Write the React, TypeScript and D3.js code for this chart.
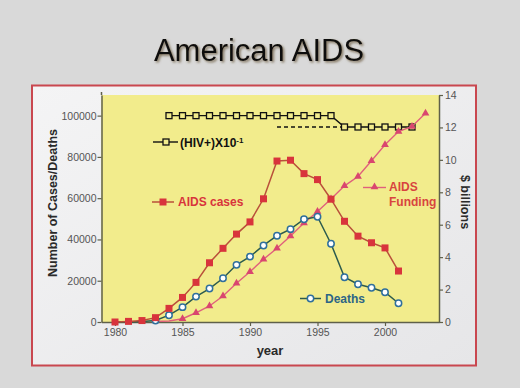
import React, { useEffect, useRef } from 'react'
import * as d3 from 'd3'

// values
const caseYears = d3.range(1980, 2002)
const aidsCases = [0, 300, 700, 2100, 6600, 11900, 19200, 28700, 35700, 42600, 48500, 59700, 78000, 78400, 71900, 69000, 59500, 48800, 41600, 38400, 35900, 24700]
const aidsDeaths = [0, 0, 200, 700, 3300, 7200, 12300, 16200, 21200, 27700, 31700, 37100, 41800, 45000, 49800, 51000, 37900, 21700, 18300, 16600, 14400, 9100]

const fundingYears = d3.range(1983, 2004)
const aidsFunding = [0.03, 0.06, 0.2, 0.57, 0.99, 1.6, 2.39, 3.1, 3.87, 4.55, 5.31, 6.1, 6.81, 7.59, 8.4, 8.97, 9.94, 10.93, 11.75, 12.06, 12.88]

const hivYears = d3.range(1984, 2003)
const hivPositive = [100000, 100000, 100000, 100000, 100000, 100000, 100000, 100000, 100000, 100000, 100000, 100000, 100000, 94500, 94500, 94500, 94500, 94500, 94500]
const hivDashed = [[1992, 94500], [1997, 94500]]

const leftTicks = [0, 20000, 40000, 60000, 80000, 100000]
const rightTicks = [0, 2, 4, 6, 8, 10, 12, 14]
const yearTicks = [1980, 1985, 1990, 1995, 2000]

const FONT = '"Liberation Sans", Arial, sans-serif'

const App: React.FC = () => {
  const svgRef = useRef<SVGSVGElement>(null)

  useEffect(() => {
    if (!svgRef.current) return
    const svg = d3.select(svgRef.current)
    svg.selectAll('*').remove()

    const left = 101.5, right = 439, top = 95, bottom = 322
    const x = d3.scaleLinear().domain([1979, 2004]).range([left, right])
    const y = d3.scaleLinear().domain([0, 110000]).range([bottom, top])
    const y2 = d3.scaleLinear().domain([0, 14]).range([bottom, top])

    const defs = svg.append('defs')
    const f = defs.append('filter').attr('id', 'shadow').attr('x', '-10%').attr('y', '-20%').attr('width', '120%').attr('height', '150%')
    f.append('feDropShadow').attr('dx', 1.5).attr('dy', 1.5).attr('stdDeviation', 1).attr('flood-color', '#6b5a40').attr('flood-opacity', 0.8)

    const bg = defs.append('linearGradient').attr('id', 'panel').attr('x1', 0).attr('y1', 0).attr('x2', 1).attr('y2', 1)
    bg.append('stop').attr('offset', '0%').attr('stop-color', '#f4f4f5')
    bg.append('stop').attr('offset', '100%').attr('stop-color', '#e6e6e8')

    svg.append('rect').attr('width', 520).attr('height', 388).attr('fill', '#d9d9d9')

    svg.append('text')
      .attr('x', 259).attr('y', 61)
      .attr('text-anchor', 'middle')
      .attr('font-family', FONT).attr('font-size', 31)
      .attr('fill', '#111')
      .attr('filter', 'url(#shadow)')
      .text('American AIDS')

    svg.append('rect')
      .attr('x', 32).attr('y', 85.5).attr('width', 444).attr('height', 280)
      .attr('fill', 'url(#panel)')
      .attr('stroke', '#c9474f').attr('stroke-width', 2)

    svg.append('rect')
      .attr('x', left).attr('y', top).attr('width', right - left).attr('height', bottom - top)
      .attr('fill', '#f2ec8c')

    const axisColor = '#5f604a'
    const styleAxis = (g: d3.Selection<SVGGElement, unknown, null, undefined>) => {
      g.selectAll('path').attr('stroke', axisColor).attr('stroke-width', 1.5)
      g.selectAll('line').attr('stroke', axisColor).attr('stroke-width', 1.2)
      g.selectAll('text').attr('fill', '#555').attr('font-family', FONT).attr('font-size', 10.5)
    }

    svg.append('line')
      .attr('x1', left).attr('x2', left).attr('y1', top - 3).attr('y2', top)
      .attr('stroke', axisColor).attr('stroke-width', 1.5)

    svg.append('g')
      .attr('transform', `translate(${left},0)`)
      .call(d3.axisLeft(y).tickValues(leftTicks).tickFormat(d3.format('d')).tickSize(4).tickSizeOuter(0).tickPadding(1))
      .call(styleAxis)

    svg.append('g')
      .attr('transform', `translate(${right},0)`)
      .call(d3.axisRight(y2).tickValues(rightTicks).tickSize(4).tickSizeOuter(0).tickPadding(2))
      .call(styleAxis)

    svg.append('g')
      .attr('transform', `translate(0,${bottom})`)
      .call(d3.axisBottom(x).tickValues(yearTicks).tickFormat(d3.format('d')).tickSize(4).tickSizeOuter(0).tickPadding(3))
      .call(styleAxis)

    const labelStyle = (t: d3.Selection<SVGTextElement, unknown, null, undefined>) =>
      t.attr('font-family', FONT).attr('font-weight', 'bold').attr('font-size', 12.5).attr('fill', '#2a2a2a').attr('text-anchor', 'middle')

    svg.append('text').call(labelStyle)
      .attr('transform', 'translate(57,203) rotate(-90)')
      .text('Number of Cases/Deaths')
    svg.append('text').call(labelStyle)
      .attr('transform', 'translate(461,202) rotate(90)')
      .text('$ billions')
    svg.append('text').call(labelStyle)
      .attr('x', 270).attr('y', 355).attr('font-size', 13)
      .text('year')

    const line = d3.line<[number, number]>().x(d => x(d[0])).y(d => y(d[1]))
    const line2 = d3.line<[number, number]>().x(d => x(d[0])).y(d => y2(d[1]))

    const casesData = caseYears.map((yr, i) => [yr, aidsCases[i]] as [number, number])
    const deathsData = caseYears.map((yr, i) => [yr, aidsDeaths[i]] as [number, number])
    const fundData = fundingYears.map((yr, i) => [yr, aidsFunding[i]] as [number, number])
    const hivData = hivYears.map((yr, i) => [yr, hivPositive[i]] as [number, number])

    const red = '#d8343c'
    const pink = '#d9466f'
    const teal = '#2c5b4e'
    const blue = '#2f6f9c'

    // HIV+
    svg.append('path').attr('d', line(hivDashed as [number, number][])!)
      .attr('fill', 'none').attr('stroke', '#111').attr('stroke-width', 1.4).attr('stroke-dasharray', '4,3')
    svg.append('path').attr('d', line(hivData)!)
      .attr('fill', 'none').attr('stroke', '#111').attr('stroke-width', 1.4)
    svg.selectAll('rect.hiv').data(hivData).join('rect').attr('class', 'hiv')
      .attr('x', d => x(d[0]) - 3).attr('y', d => y(d[1]) - 3).attr('width', 6).attr('height', 6)
      .attr('fill', '#f2ec8c').attr('stroke', '#111').attr('stroke-width', 1.3)

    // funding
    svg.append('path').attr('d', line2(fundData)!)
      .attr('fill', 'none').attr('stroke', '#e0607c').attr('stroke-width', 1.4)
    const tri = d3.symbol().type(d3.symbolTriangle).size(26)
    svg.selectAll('path.fund').data(fundData.filter(d => d[1] > 0.15)).join('path').attr('class', 'fund')
      .attr('d', tri()!)
      .attr('transform', d => `translate(${x(d[0])},${y2(d[1])})`)
      .attr('fill', pink)

    // deaths
    svg.append('path').attr('d', line(deathsData)!)
      .attr('fill', 'none').attr('stroke', teal).attr('stroke-width', 1.5)
    svg.selectAll('circle.death').data(deathsData.filter(d => d[0] >= 1983)).join('circle').attr('class', 'death')
      .attr('cx', d => x(d[0])).attr('cy', d => y(d[1])).attr('r', 3.2)
      .attr('fill', '#fff').attr('stroke', blue).attr('stroke-width', 1.5)

    // cases
    svg.append('path').attr('d', line(casesData)!)
      .attr('fill', 'none').attr('stroke', '#b9503a').attr('stroke-width', 1.5)
    svg.selectAll('rect.case').data(casesData).join('rect').attr('class', 'case')
      .attr('x', d => x(d[0]) - 3.5).attr('y', d => y(d[1]) - 3.5).attr('width', 7).attr('height', 7)
      .attr('fill', red)

    // legends
    const legText = (tx: number, ty: number, txt: string, color: string) =>
      svg.append('text').attr('x', tx).attr('y', ty)
        .attr('font-family', FONT).attr('font-weight', 'bold').attr('font-size', 12)
        .attr('fill', color).text(txt)

    svg.append('line').attr('x1', 153).attr('x2', 178).attr('y1', 142).attr('y2', 142).attr('stroke', '#111').attr('stroke-width', 1.4)
    svg.append('rect').attr('x', 163).attr('y', 139).attr('width', 6).attr('height', 6).attr('fill', '#f2ec8c').attr('stroke', '#111').attr('stroke-width', 1.3)
    const hivLabel = legText(180, 146.5, '(HIV+)X10', '#111')
    hivLabel.append('tspan').attr('dy', -4).attr('font-size', 8).text('-1')

    svg.append('line').attr('x1', 152).attr('x2', 174).attr('y1', 202).attr('y2', 202).attr('stroke', '#b9503a').attr('stroke-width', 1.5)
    svg.append('rect').attr('x', 159.5).attr('y', 198.5).attr('width', 7).attr('height', 7).attr('fill', red)
    legText(178, 206, 'AIDS cases', red)

    svg.append('line').attr('x1', 363).attr('x2', 386).attr('y1', 187.5).attr('y2', 187.5).attr('stroke', '#e0607c').attr('stroke-width', 1.4)
    svg.append('path').attr('d', tri()!).attr('transform', 'translate(374.5,187)').attr('fill', pink)
    legText(389, 191, 'AIDS', '#d8443f')
    legText(389, 205.5, 'Funding', '#d8443f')

    svg.append('line').attr('x1', 300).attr('x2', 321).attr('y1', 298.5).attr('y2', 298.5).attr('stroke', teal).attr('stroke-width', 1.5)
    svg.append('circle').attr('cx', 310.5).attr('cy', 298.5).attr('r', 3.2).attr('fill', '#fff').attr('stroke', blue).attr('stroke-width', 1.5)
    legText(325, 302.5, 'Deaths', '#2c6586')
  }, [])

  return (
    <svg ref={svgRef} width={520} height={388} style={{ position: 'absolute', left: 0, top: 0 }} />
  )
}

export default App
